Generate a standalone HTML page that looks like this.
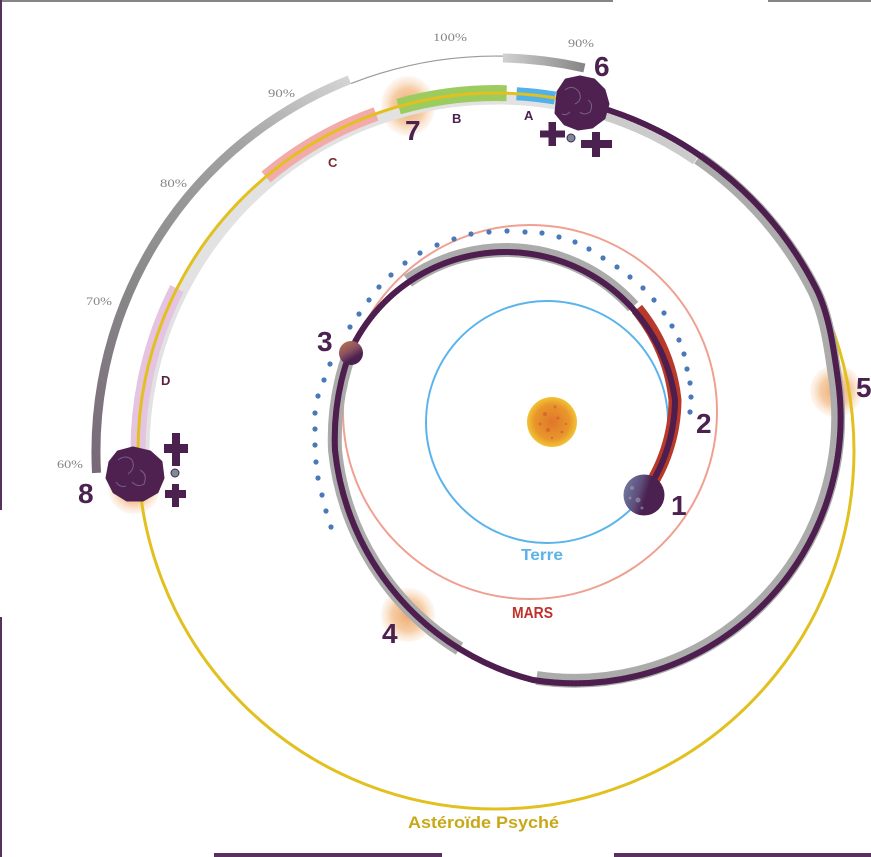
<!DOCTYPE html>
<html><head><meta charset="utf-8"><style>
html,body{margin:0;padding:0;background:#fff;}
svg{display:block;}
text{font-family:"Liberation Sans",sans-serif;}
</style></head><body>
<svg width="871" height="857" viewBox="0 0 871 857" xmlns="http://www.w3.org/2000/svg">
<defs>
<radialGradient id="glow" cx="0.5" cy="0.5" r="0.5">
<stop offset="0" stop-color="#e99a55" stop-opacity="0.85"/>
<stop offset="0.6" stop-color="#f2b880" stop-opacity="0.7"/>
<stop offset="1" stop-color="#f8d8bc" stop-opacity="0.2"/>
</radialGradient>
<linearGradient id="pctG" gradientUnits="userSpaceOnUse" x1="96" y1="473" x2="350" y2="80">
<stop offset="0" stop-color="#786878"/>
<stop offset="0.4" stop-color="#8a8a8a"/>
<stop offset="0.75" stop-color="#a2a2a2"/>
<stop offset="1" stop-color="#d4d4d4"/>
</linearGradient>
<linearGradient id="topG" gradientUnits="userSpaceOnUse" x1="502" y1="57" x2="585" y2="66">
<stop offset="0" stop-color="#d2d2d2"/>
<stop offset="1" stop-color="#858585"/>
</linearGradient>
<radialGradient id="sunG" cx="0.5" cy="0.5" r="0.5">
<stop offset="0" stop-color="#e0762a"/>
<stop offset="0.7" stop-color="#e9962c"/>
<stop offset="1" stop-color="#f2c434"/>
</radialGradient>
<linearGradient id="earthG" x1="0" y1="0" x2="1" y2="0.3">
<stop offset="0" stop-color="#7582a4"/>
<stop offset="0.45" stop-color="#5e4e7c"/>
<stop offset="0.65" stop-color="#4b2150"/>
</linearGradient>
<linearGradient id="marsG" x1="0" y1="0" x2="0.6" y2="1">
<stop offset="0" stop-color="#c07a48"/>
<stop offset="0.5" stop-color="#8a5060"/>
<stop offset="0.8" stop-color="#4b2150"/>
</linearGradient>
</defs>

<!-- borders -->
<rect x="0" y="0" width="613" height="2" fill="#858585"/>
<rect x="768" y="0" width="103" height="2" fill="#858585"/>
<rect x="0" y="0" width="2" height="510" fill="#5a3060"/>
<rect x="0" y="617" width="2" height="240" fill="#5a3060"/>
<rect x="214" y="853" width="228" height="4" fill="#5a3060"/>
<rect x="614" y="853" width="257" height="4" fill="#5a3060"/>

<!-- percentage arcs -->
<path d="M96.5,472.9 A400,400 0 0 1 349.4,79.8" fill="none" stroke="url(#pctG)" stroke-width="9"/>
<path d="M350.9,83.6 A396,396 0 0 1 502.9,56.1" fill="none" stroke="#9a9a9a" stroke-width="1.2"/>
<path d="M502.9,58 A395,395 0 0 1 584.4,68" fill="none" stroke="url(#topG)" stroke-width="9"/>

<!-- glows -->
<ellipse cx="408" cy="106" rx="27" ry="30" fill="url(#glow)"/>
<circle cx="408" cy="615" r="27" fill="url(#glow)"/>
<circle cx="836" cy="391" r="26" fill="url(#glow)"/>
<circle cx="134" cy="488" r="26" fill="url(#glow)"/>

<!-- bands along Psyche orbit -->
<path d="M144,451 A352,352 0 0 1 587,111" fill="none" stroke="#e2e2e2" stroke-width="11"/>
<path d="M138,455 A358,358 0 0 1 177,288.5" fill="none" stroke="#e4c4e0" stroke-width="15"/>
<path d="M266,177 A358,358 0 0 1 376,114" fill="none" stroke="#f2aaaa" stroke-width="14"/>
<path d="M398.6,106.6 A358,358 0 0 1 506.6,93.2" fill="none" stroke="#9ccc60" stroke-width="16"/>
<path d="M516.6,93.7 A358,358 0 0 1 555,98" fill="none" stroke="#50b2e8" stroke-width="13"/>

<!-- Psyche orbit -->
<circle cx="496" cy="451" r="358" fill="none" stroke="#e2c020" stroke-width="3"/>

<!-- Earth & Mars orbits -->
<circle cx="547" cy="422" r="121" fill="none" stroke="#5ab4ec" stroke-width="2"/>
<circle cx="530" cy="412" r="187" fill="none" stroke="#f0a090" stroke-width="2"/>

<!-- dotted arc -->
<g fill="#4a78b8">
<circle cx="331" cy="527" r="2.6"/><circle cx="326" cy="511" r="2.6"/><circle cx="322" cy="495" r="2.6"/><circle cx="318" cy="478" r="2.6"/><circle cx="316" cy="462" r="2.6"/><circle cx="315" cy="445" r="2.6"/><circle cx="315" cy="429" r="2.6"/><circle cx="315" cy="413" r="2.6"/><circle cx="318" cy="396" r="2.6"/><circle cx="324" cy="380" r="2.6"/><circle cx="330" cy="364" r="2.6"/>
<circle cx="350" cy="327" r="2.6"/><circle cx="359" cy="314" r="2.6"/><circle cx="369" cy="300" r="2.6"/><circle cx="379" cy="287" r="2.6"/><circle cx="391" cy="275" r="2.6"/><circle cx="405" cy="263" r="2.6"/><circle cx="420" cy="253" r="2.6"/><circle cx="437" cy="245" r="2.6"/><circle cx="454" cy="239" r="2.6"/><circle cx="471" cy="234" r="2.6"/><circle cx="489" cy="232" r="2.6"/><circle cx="507" cy="231" r="2.6"/><circle cx="525" cy="232" r="2.6"/><circle cx="542" cy="233" r="2.6"/><circle cx="559" cy="237" r="2.6"/><circle cx="575" cy="242" r="2.6"/><circle cx="589" cy="249" r="2.6"/><circle cx="603" cy="258" r="2.6"/><circle cx="617" cy="267" r="2.6"/><circle cx="630" cy="277" r="2.6"/><circle cx="643" cy="288" r="2.6"/><circle cx="654" cy="300" r="2.6"/><circle cx="664" cy="313" r="2.6"/><circle cx="672" cy="326" r="2.6"/><circle cx="679" cy="340" r="2.6"/><circle cx="684" cy="354" r="2.6"/><circle cx="687" cy="369" r="2.6"/><circle cx="690" cy="383" r="2.6"/><circle cx="691" cy="397" r="2.6"/><circle cx="690" cy="412" r="2.6"/>
</g>

<!-- trajectory grey shadows -->
<g fill="none" stroke="#ababab" stroke-width="14">
<path d="M633.1,306.6 A171,171 0 0 0 407.9,280.9"/>
<path d="M350,352 A255,255 0 0 0 335,450 A265,265 0 0 0 459.5,648.7"/>
<path d="M536,680.5 A266,266 0 0 0 838,380 C833.8,350.3 829.5,314.7 815.9,288 A359,359 0 0 0 699.3,155.1" transform="translate(590,424) scale(0.99) translate(-590,-424)"/>
</g>
<path transform="translate(496,451) scale(0.98) translate(-496,-451)" d="M699.3,155.1 A359,359 0 0 0 582.3,102.6" fill="none" stroke="#cbcbcb" stroke-width="8"/>

<!-- red band -->
<path d="M644,495 A165,165 0 0 0 675,400 A171,171 0 0 0 637,309" fill="none" stroke="#b8382a" stroke-width="13"/>

<!-- trajectory main line -->
<path id="traj" d="M644,495 A165,165 0 0 0 675,400 A171,171 0 0 0 350,352 A255,255 0 0 0 335,450 A265,265 0 0 0 533,680 A266,266 0 0 0 838,380 C833.8,350.3 829.5,314.7 815.9,288 A359,359 0 0 0 582.3,102.6" fill="none" stroke="#4e1f4e" stroke-width="6" stroke-linecap="round"/>
<use href="#traj" fill="none" stroke="#c03838" stroke-width="1.4" stroke-dasharray="1 3" opacity="0.6"/>

<!-- Sun -->
<circle cx="552" cy="422" r="25" fill="url(#sunG)"/>
<g fill="#c8502a" opacity="0.5">
<circle cx="545" cy="414" r="2"/><circle cx="558" cy="418" r="1.5"/><circle cx="548" cy="430" r="2"/><circle cx="562" cy="432" r="1.5"/><circle cx="540" cy="424" r="1.5"/><circle cx="555" cy="407" r="1.5"/><circle cx="566" cy="424" r="1.2"/><circle cx="552" cy="438" r="1.2"/>
</g>

<!-- Earth -->
<circle cx="644" cy="495" r="20.5" fill="url(#earthG)"/>
<g fill="#9aa0b8" opacity="0.6"><circle cx="632" cy="488" r="2"/><circle cx="638" cy="500" r="2.5"/><circle cx="630" cy="498" r="1.5"/><circle cx="642" cy="508" r="1.5"/></g>

<!-- Mars -->
<circle cx="351" cy="353" r="12" fill="url(#marsG)"/>

<!-- Psyche at 6 -->
<path d="M558,92 L566,80 L580,77 L594,80 L604,90 L608,104 L604,118 L592,127 L578,129 L565,124 L556,113 Z" fill="#4e2150" stroke="#4e2150" stroke-width="3" stroke-linejoin="round"/>
<g fill="none" stroke="#8a7a9a" stroke-width="1" opacity="0.7">
<path d="M565,90 q8,-6 14,2 q4,8 -4,12"/><path d="M588,100 q6,4 2,12 q-6,4 -10,0"/><path d="M570,112 q-4,4 -8,2"/>
</g>
<!-- Psyche at 8 -->
<path d="M110,462 L118,452 L133,448 L150,452 L161,462 L163,478 L157,492 L143,500 L127,500 L114,492 L107,478 Z" fill="#4e2150" stroke="#4e2150" stroke-width="3" stroke-linejoin="round"/>
<g fill="none" stroke="#8a7a9a" stroke-width="1" opacity="0.7">
<path d="M118,460 q8,-6 14,0 q4,8 -4,14"/><path d="M140,470 q8,4 4,14 q-6,4 -12,-2"/><path d="M116,482 q4,6 10,4"/>
</g>

<!-- spacecraft crosses -->
<g fill="#4b2150">
<rect x="540" y="130.5" width="25" height="7"/><rect x="548.5" y="122" width="7.5" height="24"/>
<rect x="581" y="140" width="31" height="8"/><rect x="592" y="132" width="8" height="25"/>
<rect x="164" y="444" width="24" height="9"/><rect x="172" y="433" width="8" height="33"/>
<rect x="165" y="490" width="21" height="8"/><rect x="172" y="484" width="7" height="23"/>
</g>
<circle cx="571" cy="138" r="4" fill="#7a8c98" stroke="#4b2150" stroke-width="1"/>
<circle cx="175" cy="473" r="4" fill="#7a8c98" stroke="#4b2150" stroke-width="1"/>

<!-- percent labels -->
<g font-size="12" fill="#858585">
<text x="433" y="41" textLength="34" lengthAdjust="spacingAndGlyphs" style="font-family:'Liberation Serif',serif">100%</text>
<text x="568" y="47" textLength="26" lengthAdjust="spacingAndGlyphs" style="font-family:'Liberation Serif',serif">90%</text>
<text x="268" y="97" textLength="27" lengthAdjust="spacingAndGlyphs" style="font-family:'Liberation Serif',serif">90%</text>
<text x="160" y="187" textLength="27" lengthAdjust="spacingAndGlyphs" style="font-family:'Liberation Serif',serif">80%</text>
<text x="86" y="305" textLength="26" lengthAdjust="spacingAndGlyphs" style="font-family:'Liberation Serif',serif">70%</text>
<text x="57" y="468" textLength="26" lengthAdjust="spacingAndGlyphs" style="font-family:'Liberation Serif',serif">60%</text>
</g>

<!-- band letters -->
<g font-size="13" font-weight="bold">
<text x="524" y="120" fill="#4b2150">A</text>
<text x="452" y="123" fill="#4b2150">B</text>
<text x="328" y="167" fill="#7a2a30">C</text>
<text x="161" y="385" fill="#5a1f40">D</text>
</g>

<!-- numbers -->
<g font-size="28" font-weight="bold" fill="#4b2150">
<text x="671" y="515">1</text>
<text x="696" y="433">2</text>
<text x="317" y="351">3</text>
<text x="382" y="643">4</text>
<text x="856" y="397">5</text>
<text x="594" y="76">6</text>
<text x="405" y="140">7</text>
<text x="78" y="503">8</text>
</g>

<!-- names -->
<text x="521" y="560" font-size="16" font-weight="bold" fill="#5ab4ea" textLength="42" lengthAdjust="spacingAndGlyphs">Terre</text>
<text x="512" y="618" font-size="16" font-weight="bold" fill="#c0302a" textLength="41" lengthAdjust="spacingAndGlyphs">MARS</text>
<text x="408" y="828" font-size="17" font-weight="bold" fill="#c9a818" textLength="151" lengthAdjust="spacingAndGlyphs">Astéroïde Psyché</text>
</svg>
</body></html>
